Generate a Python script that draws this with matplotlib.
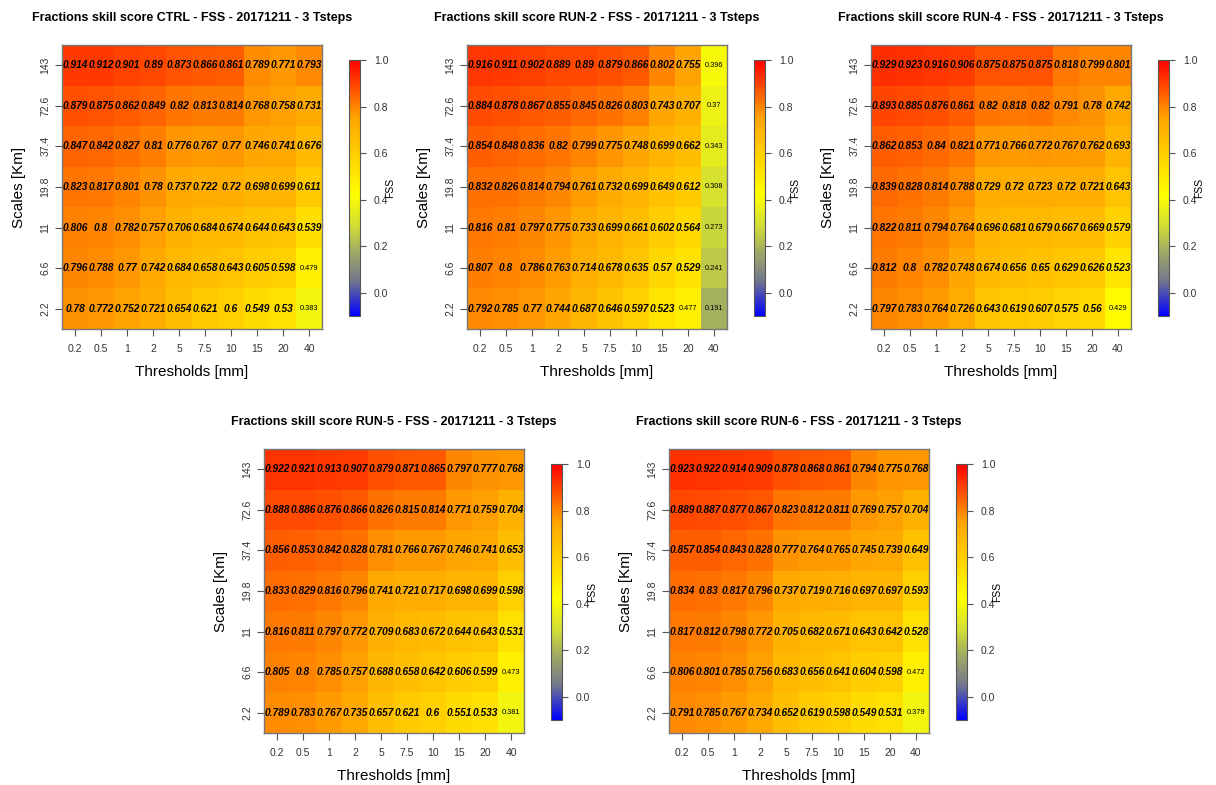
import numpy as np
import matplotlib
matplotlib.use("Agg")
import matplotlib.pyplot as plt
from matplotlib.colors import LinearSegmentedColormap, Normalize

plt.rcParams["font.family"] = ["Liberation Sans", "DejaVu Sans"]

thresholds = ["0.2", "0.5", "1", "2", "5", "7.5", "10", "15", "20", "40"]
scales = ["143", "72.6", "37.4", "19.8", "11", "6.6", "2.2"]  # top to bottom

fss_ctrl = [
    [0.914, 0.912, 0.901, 0.89, 0.873, 0.866, 0.861, 0.789, 0.771, 0.793],
    [0.879, 0.875, 0.862, 0.849, 0.82, 0.813, 0.814, 0.768, 0.758, 0.731],
    [0.847, 0.842, 0.827, 0.81, 0.776, 0.767, 0.77, 0.746, 0.741, 0.676],
    [0.823, 0.817, 0.801, 0.78, 0.737, 0.722, 0.72, 0.698, 0.699, 0.611],
    [0.806, 0.8, 0.782, 0.757, 0.706, 0.684, 0.674, 0.644, 0.643, 0.539],
    [0.796, 0.788, 0.77, 0.742, 0.684, 0.658, 0.643, 0.605, 0.598, 0.479],
    [0.78, 0.772, 0.752, 0.721, 0.654, 0.621, 0.6, 0.549, 0.53, 0.383],
]
fss_run2 = [
    [0.916, 0.911, 0.902, 0.889, 0.89, 0.879, 0.866, 0.802, 0.755, 0.396],
    [0.884, 0.878, 0.867, 0.855, 0.845, 0.826, 0.803, 0.743, 0.707, 0.37],
    [0.854, 0.848, 0.836, 0.82, 0.799, 0.775, 0.748, 0.699, 0.662, 0.343],
    [0.832, 0.826, 0.814, 0.794, 0.761, 0.732, 0.699, 0.649, 0.612, 0.308],
    [0.816, 0.81, 0.797, 0.775, 0.733, 0.699, 0.661, 0.602, 0.564, 0.273],
    [0.807, 0.8, 0.786, 0.763, 0.714, 0.678, 0.635, 0.57, 0.529, 0.241],
    [0.792, 0.785, 0.77, 0.744, 0.687, 0.646, 0.597, 0.523, 0.477, 0.191],
]
fss_run4 = [
    [0.929, 0.923, 0.916, 0.906, 0.875, 0.875, 0.875, 0.818, 0.799, 0.801],
    [0.893, 0.885, 0.876, 0.861, 0.82, 0.818, 0.82, 0.791, 0.78, 0.742],
    [0.862, 0.853, 0.84, 0.821, 0.771, 0.766, 0.772, 0.767, 0.762, 0.693],
    [0.839, 0.828, 0.814, 0.788, 0.729, 0.72, 0.723, 0.72, 0.721, 0.643],
    [0.822, 0.811, 0.794, 0.764, 0.696, 0.681, 0.679, 0.667, 0.669, 0.579],
    [0.812, 0.8, 0.782, 0.748, 0.674, 0.656, 0.65, 0.629, 0.626, 0.523],
    [0.797, 0.783, 0.764, 0.726, 0.643, 0.619, 0.607, 0.575, 0.56, 0.429],
]
fss_run5 = [
    [0.922, 0.921, 0.913, 0.907, 0.879, 0.871, 0.865, 0.797, 0.777, 0.768],
    [0.888, 0.886, 0.876, 0.866, 0.826, 0.815, 0.814, 0.771, 0.759, 0.704],
    [0.856, 0.853, 0.842, 0.828, 0.781, 0.766, 0.767, 0.746, 0.741, 0.653],
    [0.833, 0.829, 0.816, 0.796, 0.741, 0.721, 0.717, 0.698, 0.699, 0.598],
    [0.816, 0.811, 0.797, 0.772, 0.709, 0.683, 0.672, 0.644, 0.643, 0.531],
    [0.805, 0.8, 0.785, 0.757, 0.688, 0.658, 0.642, 0.606, 0.599, 0.473],
    [0.789, 0.783, 0.767, 0.735, 0.657, 0.621, 0.6, 0.551, 0.533, 0.381],
]
fss_run6 = [
    [0.923, 0.922, 0.914, 0.909, 0.878, 0.868, 0.861, 0.794, 0.775, 0.768],
    [0.889, 0.887, 0.877, 0.867, 0.823, 0.812, 0.811, 0.769, 0.757, 0.704],
    [0.857, 0.854, 0.843, 0.828, 0.777, 0.764, 0.765, 0.745, 0.739, 0.649],
    [0.834, 0.83, 0.817, 0.796, 0.737, 0.719, 0.716, 0.697, 0.697, 0.593],
    [0.817, 0.812, 0.798, 0.772, 0.705, 0.682, 0.671, 0.643, 0.642, 0.528],
    [0.806, 0.801, 0.785, 0.756, 0.683, 0.656, 0.641, 0.604, 0.598, 0.472],
    [0.791, 0.785, 0.767, 0.734, 0.652, 0.619, 0.598, 0.549, 0.531, 0.379],
]

runs = ["CTRL", "RUN-2", "RUN-4", "RUN-5", "RUN-6"]
data = [fss_ctrl, fss_run2, fss_run4, fss_run5, fss_run6]

# panel origins in pixels (left, top) of the heatmap box
origins = [(62, 45), (467, 45), (871, 45), (264, 449), (669, 449)]

W, H = 1216, 785
fig = plt.figure(figsize=(W / 100, H / 100), dpi=100)

# blue -> gray/olive -> yellow -> orange -> red, over zlim -0.1..1.0
vmin, vmax = -0.1, 1.0
nodes = [(-0.1, (0.0, 0.0, 1.0)),
         (0.05, (0.45, 0.47, 0.55)),
         (0.19, (0.65, 0.69, 0.37)),
         (0.28, (0.81, 0.86, 0.22)),
         (0.42, (1.0, 1.0, 0.0)),
         (0.75, (1.0, 0.65, 0.0)),
         (1.0, (1.0, 0.0, 0.0))]
cmap = LinearSegmentedColormap.from_list(
    "fss", [((v - vmin) / (vmax - vmin), c) for v, c in nodes])
norm = Normalize(vmin=vmin, vmax=vmax)


def px_axes(x, y, w, h):
    return fig.add_axes([x / W, 1 - (y + h) / H, w / W, h / H])


for run, vals, (x0, y0) in zip(runs, data, origins):
    z = np.array(vals)
    ax = px_axes(x0, y0, 260, 284)
    ax.pcolormesh(np.arange(len(thresholds) + 1) - 0.5,
                  np.arange(len(scales) + 1) - 0.5,
                  z[::-1], cmap=cmap, norm=norm, shading="flat")
    for i, row in enumerate(vals):
        for j, v in enumerate(row):
            yy = len(scales) - 1 - i
            if v >= 0.5:
                ax.text(j, yy, f"{v:g}", ha="center", va="center",
                        fontsize=7.3, fontweight="bold", fontstyle="italic")
            else:
                ax.text(j, yy, f"{v:g}", ha="center", va="center",
                        fontsize=5.3)
    ax.set_xlim(-0.5, len(thresholds) - 0.5)
    ax.set_ylim(-0.5, len(scales) - 0.5)
    ax.set_xticks(range(len(thresholds)))
    ax.set_xticklabels(thresholds, fontsize=7.5, color="#333333")
    ax.set_yticks(range(len(scales)))
    ax.set_yticklabels(scales[::-1], fontsize=7.5, rotation=90, va="center",
                       color="#333333")
    ax.tick_params(length=5, width=0.8, color="#555555", pad=6)
    ax.tick_params(axis="y", pad=3.5)
    for sp in ax.spines.values():
        sp.set_color("#777777")
        sp.set_linewidth(1.0)
    ax.set_title(f"Fractions skill score {run} - FSS - 20171211 - 3 Tsteps",
                 fontsize=9, fontweight="bold", pad=17)
    ax.set_xlabel("Thresholds [mm]", fontsize=11, labelpad=8)
    ax.set_ylabel("Scales [Km]", fontsize=11, labelpad=10)

    cax = px_axes(x0 + 287, y0 + 15, 11, 256)
    sm = plt.cm.ScalarMappable(cmap=cmap, norm=norm)
    cb = fig.colorbar(sm, cax=cax, ticks=[0.0, 0.2, 0.4, 0.6, 0.8, 1.0])
    cb.ax.set_yticklabels(["0.0", "0.2", "0.4", "0.6", "0.8", "1.0"],
                          fontsize=7.5, color="#333333")
    cb.ax.tick_params(length=4, width=0.8, color="#555555", pad=6)
    cb.outline.set_edgecolor("#555555")
    cb.outline.set_linewidth(0.8)
    cax.text(3.75, 0.5, "FSS", rotation=90, fontsize=7.5,
             transform=cax.transAxes, ha="center", va="center")

fig.savefig("out.png", dpi=100)
